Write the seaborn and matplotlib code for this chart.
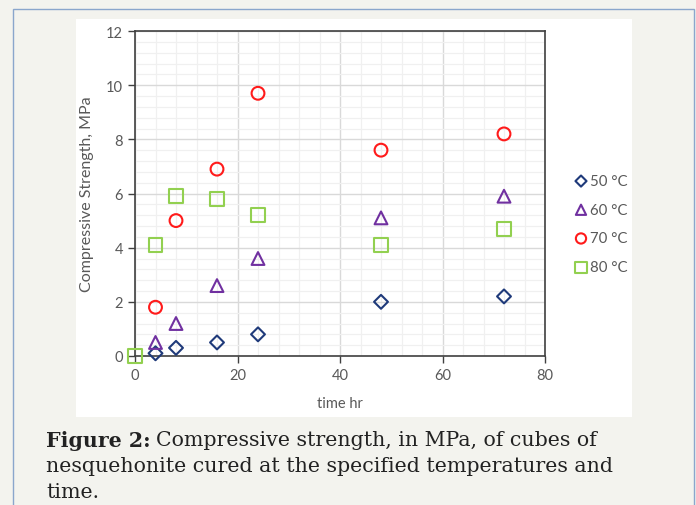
import numpy as np
import pandas as pd
import matplotlib
matplotlib.use("Agg")
import matplotlib.pyplot as plt
import seaborn as sns
from matplotlib.patches import Rectangle
from matplotlib.ticker import MultipleLocator

# ---- data ----
series_labels = ["50 °C", "60 °C", "70 °C", "80 °C"]
time_50 = [4, 8, 16, 24, 48, 72]
str_50 = [0.1, 0.3, 0.5, 0.8, 2.0, 2.2]
time_60 = [4, 8, 16, 24, 48, 72]
str_60 = [0.5, 1.2, 2.6, 3.6, 5.1, 5.9]
time_70 = [4, 8, 16, 24, 48, 72]
str_70 = [1.8, 5.0, 6.9, 9.7, 7.6, 8.2]
time_80 = [0, 4, 8, 16, 24, 48, 72]
str_80 = [0.0, 4.1, 5.9, 5.8, 5.2, 4.1, 4.7]
x_ticks = [0, 20, 40, 60, 80]
y_ticks = [0, 2, 4, 6, 8, 10, 12]

frames = []
for lab, t, s in zip(series_labels, [time_50, time_60, time_70, time_80],
                     [str_50, str_60, str_70, str_80]):
    frames.append(pd.DataFrame({"time": t, "strength": s, "temp": lab}))
df = pd.concat(frames, ignore_index=True)

colors = {"50 °C": "#1f3a7a", "60 °C": "#7030a0", "70 °C": "#ff1a1a", "80 °C": "#92d050"}
markers = {"50 °C": "D", "60 °C": "^", "70 °C": "o", "80 °C": "s"}
msize = {"50 °C": 50, "60 °C": 85, "70 °C": 85, "80 °C": 100}

sns.set_theme(style="white")
plt.rcParams["font.family"] = ["Lato", "DejaVu Sans"]

fig = plt.figure(figsize=(6.96, 5.06), dpi=100)
fig.patch.set_facecolor("#f3f3ee")

# outer border and white panel
fig.add_artist(Rectangle((13/696, -0.1), (694-13)/696, 1.1 - 10/506, transform=fig.transFigure,
                         fill=False, edgecolor="#8aa6cc", linewidth=1.0))
fig.add_artist(Rectangle((76/696, 1 - 418/506), (632-76)/696, (418-20)/506,
                         transform=fig.transFigure, facecolor="white", edgecolor="none", zorder=0))

ax = fig.add_axes([135/696, 1 - 357/506, (545-135)/696, (357-32)/506])
ax.set_facecolor("white")

for lab in series_labels:
    sub = df[df["temp"] == lab]
    sns.scatterplot(data=sub, x="time", y="strength", ax=ax, marker=markers[lab],
                    s=msize[lab], facecolors="none", edgecolors=colors[lab],
                    linewidths=1.5, label=lab, zorder=3, clip_on=False)

ax.set_xlim(0, 80)
ax.set_ylim(0, 12)
ax.set_xticks(x_ticks)
ax.set_yticks(y_ticks)
ax.xaxis.set_minor_locator(MultipleLocator(4))
ax.yaxis.set_minor_locator(MultipleLocator(0.4))
ax.grid(which="major", color="#d9d9d9", linewidth=1.0)
ax.grid(which="minor", color="#f0f0f0", linewidth=0.9)
ax.set_axisbelow(True)
for sp in ax.spines.values():
    sp.set_color("#404040")
    sp.set_linewidth(1.2)
ax.tick_params(axis="both", which="major", direction="out", length=5, width=1,
               color="#404040", labelsize=10.5, labelcolor="#595959", bottom=True, left=True)
ax.tick_params(which="minor", length=0)
ax.set_xlabel("time hr", fontsize=10.5, color="#595959", labelpad=10)
ax.set_ylabel("Compressive Strength, MPa", fontsize=11.5, color="#595959", labelpad=9)

ax.get_legend().remove()
handles, labels = ax.get_legend_handles_labels()
fig.legend(handles, labels, loc="upper left", bbox_to_anchor=(566/696, 1 - 169/506),
           frameon=False, fontsize=10.8, labelcolor="#595959", handletextpad=0.0,
           labelspacing=0.98, handlelength=1.2, borderaxespad=0, markerscale=0.8)

# caption
cap_kw = dict(fontsize=14.8, family="DejaVu Serif", color="#222222", va="center")
fig.canvas.draw()
r = fig.canvas.get_renderer()
t1 = fig.text(46/696, 1 - 441/506, "Figure 2:", fontweight="bold", **cap_kw)
bb = t1.get_window_extent(renderer=r)
fig.text((bb.x1 + 5)/696, 1 - 441/506, "Compressive strength, in MPa, of cubes of", **cap_kw)
fig.text(46/696, 1 - 467/506, "nesquehonite cured at the specified temperatures and", **cap_kw)
fig.text(46/696, 1 - 493/506, "time.", **cap_kw)

fig.savefig("out.png", dpi=100, facecolor=fig.get_facecolor())
